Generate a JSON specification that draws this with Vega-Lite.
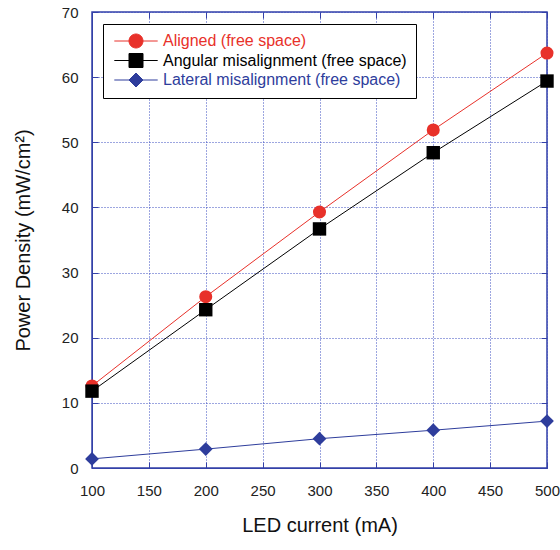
{
  "$schema": "https://vega.github.io/schema/vega-lite/v6.json",
  "autosize": "none",
  "width": 455,
  "height": 456,
  "padding": {"left": 92, "top": 12, "right": 13, "bottom": 82},
  "background": "white",
  "config": {
    "font": "Liberation Sans",
    "view": {"stroke": "#3340a8", "strokeWidth": 1.5},
    "axis": {
      "domainColor": "#3340a8",
      "tickColor": "#3340a8",
      "gridColor": "#3a4cc0",
      "gridDash": [1, 2],
      "gridWidth": 1,
      "labelFont": "Liberation Sans",
      "labelFontSize": 15,
      "labelColor": "#222",
      "labelFlush": false,
      "titleFont": "Liberation Sans",
      "titleFontSize": 20,
      "titleFontWeight": "normal",
      "titleColor": "#111"
    }
  },
  "data": {
    "values": [
      {"current": 100, "density": 12.6, "series": "Aligned (free space)"},
      {"current": 200, "density": 26.3, "series": "Aligned (free space)"},
      {"current": 300, "density": 39.3, "series": "Aligned (free space)"},
      {"current": 400, "density": 51.9, "series": "Aligned (free space)"},
      {"current": 500, "density": 63.7, "series": "Aligned (free space)"},
      {"current": 100, "density": 11.8, "series": "Angular misalignment (free space)"},
      {"current": 200, "density": 24.3, "series": "Angular misalignment (free space)"},
      {"current": 300, "density": 36.7, "series": "Angular misalignment (free space)"},
      {"current": 400, "density": 48.4, "series": "Angular misalignment (free space)"},
      {"current": 500, "density": 59.4, "series": "Angular misalignment (free space)"},
      {"current": 100, "density": 1.4, "series": "Lateral misalignment (free space)"},
      {"current": 200, "density": 2.9, "series": "Lateral misalignment (free space)"},
      {"current": 300, "density": 4.5, "series": "Lateral misalignment (free space)"},
      {"current": 400, "density": 5.8, "series": "Lateral misalignment (free space)"},
      {"current": 500, "density": 7.2, "series": "Lateral misalignment (free space)"}
    ]
  },
  "resolve": {"axis": {"x": "independent", "y": "independent"}},
  "layer": [
    {
      "mark": {"type": "point", "opacity": 0},
      "encoding": {
        "x": {"field": "current", "type": "quantitative", "scale": {"domain": [100, 500], "nice": false, "zero": false},
          "axis": {"orient": "top", "values": [100,150,200,250,300,350,400,450,500], "labels": false, "title": null, "grid": false, "domain": false, "tickSize": -6}},
        "y": {"field": "density", "type": "quantitative", "scale": {"domain": [0, 70], "nice": false},
          "axis": {"orient": "right", "values": [0,10,20,30,40,50,60,70], "labels": false, "title": null, "grid": false, "domain": false, "tickSize": -6}}
      }
    },
    {
      "encoding": {
        "x": {
          "field": "current", "type": "quantitative",
          "scale": {"domain": [100, 500], "nice": false, "zero": false},
          "axis": {"orient": "bottom", "title": "LED current (mA)", "values": [100,150,200,250,300,350,400,450,500], "tickSize": -6, "labelPadding": 21, "titlePadding": 17, "grid": true}
        },
        "y": {
          "field": "density", "type": "quantitative",
          "scale": {"domain": [0, 70], "nice": false},
          "axis": {"orient": "left", "title": "Power Density (mW/cm²)", "values": [0,10,20,30,40,50,60,70], "tickSize": -6, "labelPadding": 20, "titlePadding": 28, "grid": true}
        },
        "color": {
          "field": "series", "type": "nominal",
          "scale": {"range": ["#e8312a", "#000000", "#2e3d9c"]},
          "legend": {
            "title": null,
            "orient": "none",
            "legendX": 11,
            "legendY": 12,
            "direction": "vertical",
            "fillColor": "white",
            "strokeColor": "#000",
            "padding": 9,
            "labelFont": "Liberation Sans",
            "labelFontSize": 16,
            "labelLimit": 400,
            "symbolSize": 196,
            "symbolOffset": 16,
            "labelOffset": 19,
            "symbolStrokeWidth": 1,
            "rowPadding": 1.5,
            "encode": {
              "symbols": {
                "update": {
                  "shape": {"signal": "datum.value == 'Aligned (free space)' ? 'M-3.1,0L3.1,0M-1,0A1,1 0 1,0 1,0A1,1 0 1,0 -1,0Z' : datum.value == 'Angular misalignment (free space)' ? 'M-3.1,0L3.1,0M-1,-1H1V1H-1Z' : 'M-3.1,0L3.1,0M0,-1L1,0L0,1L-1,0Z'"},
                  "fill": {"signal": "scale('color', datum.value)"},
                  "stroke": {"signal": "scale('color', datum.value)"},
                  "fillOpacity": {"value": 1},
                  "opacity": {"value": 1}
                }
              },
              "labels": {
                "update": {
                  "fill": {"signal": "scale('color', datum.value)"}
                }
              }
            }
          }
        }
      },
      "layer": [
        {"mark": {"type": "line", "strokeWidth": 1}},
        {
          "mark": {"type": "point", "filled": true, "opacity": 1},
          "encoding": {
            "shape": {"field": "series", "type": "nominal", "scale": {"range": ["circle", "square", "diamond"]}, "legend": null},
            "size": {"field": "series", "type": "nominal", "scale": {"range": [170, 190, 170]}, "legend": null}
          }
        }
      ]
    }
  ]
}
